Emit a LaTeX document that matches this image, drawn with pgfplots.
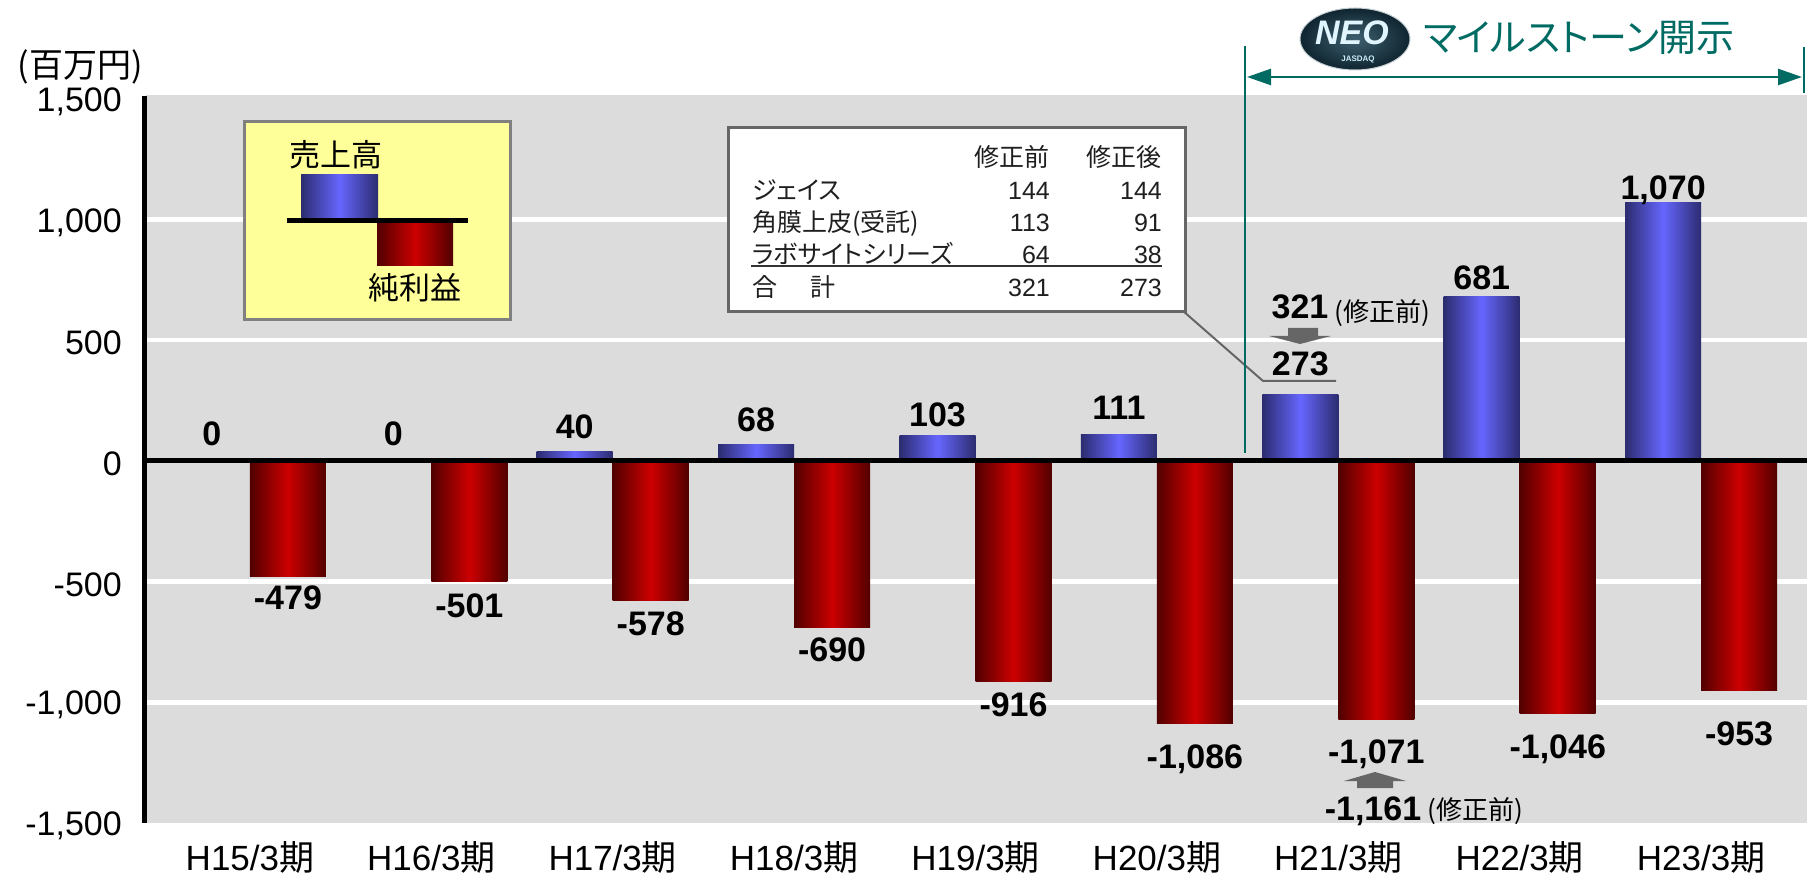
\documentclass[border=0pt]{standalone}
\usepackage{pgfplots}
\pgfplotsset{compat=1.18}
\usepackage{pgfplotstable}
\usetikzlibrary{arrows.meta}
\usepackage{fontspec}
\setmainfont{Liberation Sans}
\newfontfamily\cjk{Noto Sans CJK JP}
\newfontfamily\cjkp[RawFeature=+palt]{Noto Sans CJK JP}
\definecolor{bggray}{HTML}{DCDCDC}
\definecolor{blueMid}{HTML}{6666FF}
\definecolor{blueDark}{HTML}{2C2C70}
\definecolor{redMid}{HTML}{CC0000}
\definecolor{redDark}{HTML}{520000}
\definecolor{tealc}{HTML}{006B63}
\definecolor{agray}{HTML}{666666}
\definecolor{legfill}{HTML}{FFFF99}
\definecolor{legedge}{HTML}{808080}
\definecolor{neodark}{HTML}{0F2530}
\definecolor{neomid}{HTML}{3F6070}

\pgfplotstableread{
x y lab off
0 0 0 27
1 0 0 27
2 40 40 25
3 68 68 25
4 103 103 21
5 111 111 27
6 273 273 31
7 681 681 19
8 1070 1,070 15
}\sales
\pgfplotstableread{
x y lab off
0 -479 -479 -21
1 -501 -501 -24
2 -578 -578 -23
3 -690 -690 -22
4 -916 -916 -23
5 -1086 -1,086 -33
6 -1071 -1,071 -32
7 -1046 -1,046 -33
8 -953 -953 -43
}\net

\tikzset{lab/.style={font=\bfseries\fontsize{34}{36}\selectfont, inner sep=0pt, text height=24pt, text depth=0pt, text=black}}

\begin{document}
\begin{tikzpicture}
\path[use as bounding box] (0,0) rectangle (1812pt,876pt);
\begin{axis}[
  at={(146pt,53pt)}, anchor=south west,
  scale only axis, width=1661pt, height=728pt,
  xmin=-0.573, xmax=8.584, ymin=-1500, ymax=1515,
  axis background/.style={fill=bggray},
  axis line style={draw=none},
  major tick length=0pt,
  xtick={0,...,8},
  xticklabels={H15/3{\cjk 期},H16/3{\cjk 期},H17/3{\cjk 期},H18/3{\cjk 期},H19/3{\cjk 期},H20/3{\cjk 期},H21/3{\cjk 期},H22/3{\cjk 期},H23/3{\cjk 期}},
  xticklabel style={font=\fontsize{35}{40}\selectfont, anchor=base, inner sep=0pt, yshift=-47pt},
  ytick={-1500,-1000,-500,0,500,1000,1500},
  yticklabels={{-1,500},{-1,000},-500,0,500,{1,000},{1,500}},
  yticklabel style={font=\fontsize{34}{40}\selectfont, anchor=east, inner sep=0pt, xshift=-24pt, yshift=-3pt},
  extra y ticks={-1000,-500,500,1000},
  extra y tick labels={},
  extra y tick style={grid=major},
  major grid style={white, line width=4.5pt},
  clip=false,
]
\pgfplotsinvokeforeach{2,...,8}{
\addplot[ybar, bar width=76pt, bar shift=-38pt, draw=none,
  left color=blueDark, right color=blueDark, middle color=blueMid,
  x filter/.expression={abs(x-#1)<0.1 ? x : nan}] table[x=x,y=y]{\sales};
}
\pgfplotsinvokeforeach{0,...,8}{
\addplot[ybar, bar width=76pt, bar shift=38pt, draw=none,
  left color=redDark, right color=redDark, middle color=redMid,
  x filter/.expression={abs(x-#1)<0.1 ? x : nan}] table[x=x,y=y]{\net};
}
\draw[black, line width=5pt] (axis cs:-0.573,0) -- (axis cs:8.584,0);
\addplot[draw=none, mark=none, nodes near coords, point meta=explicit symbolic,
  visualization depends on={\thisrow{off}\as\myoff},
  every node near coord/.append style={lab, anchor=center, xshift=-38pt, yshift=\myoff}]
  table[x=x,y=y,meta=lab]{\sales};
\addplot[draw=none, mark=none, nodes near coords, point meta=explicit symbolic,
  visualization depends on={\thisrow{off}\as\myoff},
  every node near coord/.append style={lab, anchor=center, xshift=38pt, yshift=\myoff}]
  table[x=x,y=y,meta=lab]{\net};
\end{axis}

\begin{scope}[shift={(0pt,876pt)}, x=1pt, y=-1pt]
% left axis line
\draw[black, line width=5.5pt] (144.5,96) -- (144.5,823);
% unit label
\node[font=\cjk\fontsize{34}{38}\selectfont, inner sep=0pt] at (80,67) {(百万円)};
% legend box
\draw[legedge, fill=legfill, line width=3pt] (244,122) rectangle (510,320);
\shade[left color=blueDark, right color=blueDark, middle color=blueMid] (301,175) rectangle (378,219);
\shade[left color=redDark, right color=redDark, middle color=redMid] (377,223) rectangle (453,266);
\draw[black, line width=5pt] (287,221) -- (468,221);
\node[font=\cjk\fontsize{31}{34}\selectfont, inner sep=0pt] at (336,155) {売上高};
\node[font=\cjk\fontsize{31}{34}\selectfont, inner sep=0pt] at (415,288) {純利益};
% table box
\draw[agray, line width=2pt] (1183,311) -- (1263,381) -- (1336,381);
\draw[agray, fill=white, line width=3pt] (728,128) rectangle (1185,312);
\begin{scope}[every node/.style={inner sep=0pt, text=black!88, font=\fontsize{25}{28}\selectfont}]
\node[anchor=base east] at (1050,167) {\cjk 修正前};
\node[anchor=base east] at (1162,167) {\cjk 修正後};
\node[anchor=base west] at (752,200) {\cjkp ジェイス};
\node[anchor=base west] at (752,231.5) {\cjkp 角膜上皮(受託)};
\node[anchor=base west] at (752,264) {\cjkp ラボサイトシリーズ};
\node[anchor=base west] at (752,296.5) {\cjk 合};
\node[anchor=base west] at (810,296.5) {\cjk 計};
\node[anchor=base east] at (1050,200) {144};
\node[anchor=base east] at (1162,200) {144};
\node[anchor=base east] at (1050,231.5) {113};
\node[anchor=base east] at (1162,231.5) {91};
\node[anchor=base east] at (1050,264) {64};
\node[anchor=base east] at (1162,264) {38};
\node[anchor=base east] at (1050,296.5) {321};
\node[anchor=base east] at (1162,296.5) {273};
\end{scope}
\draw[black!80, line width=2pt] (751,266) -- (1162,266);
% H21 annotations
\node[lab] at (1300,307) {321};
\node[anchor=west, inner sep=0pt, font=\cjk\fontsize{26}{28}\selectfont] at (1334,313) {(修正前)};
\fill[agray] (1288,328) -- (1318,328) -- (1318,336) -- (1331,336) -- (1300,344) -- (1269,336) -- (1288,336) -- cycle;
\fill[agray] (1375,772) -- (1406,781) -- (1393,781) -- (1393,788) -- (1357,788) -- (1357,781) -- (1344,781) -- cycle;
\node[lab] at (1373,808) {-1,161};
\node[anchor=west, inner sep=0pt, font=\cjk\fontsize{26}{28}\selectfont] at (1427,811) {(修正前)};
% NEO milestone
\draw[tealc, line width=2.5pt] (1245,46) -- (1245,453);
\draw[tealc, line width=2.5pt] (1804,47) -- (1804,93);
\draw[tealc, line width=2.5pt, {Triangle[length=24pt,width=16pt]}-{Triangle[length=24pt,width=16pt]}] (1247,77) -- (1802,77);
\shade[inner color=neomid, outer color=neodark] (1355,39) ellipse [x radius=55pt, y radius=31pt];
\draw[white!70!neomid, line width=1pt] (1355,39) ellipse [x radius=55pt, y radius=31pt];
\node[text=white!88!cyan, font=\bfseries\itshape\fontsize{34}{36}\selectfont, inner sep=0pt] at (1352,33) {NEO};
\node[text=white!80!cyan, font=\bfseries\fontsize{8}{9}\selectfont, inner sep=0pt] at (1358,60) {JASDAQ};
\node[anchor=west, inner sep=0pt, text=tealc, font=\cjkp\fontsize{38}{42}\selectfont] at (1423,38) {マイルストーン開示};
\end{scope}
\end{tikzpicture}
\end{document}
